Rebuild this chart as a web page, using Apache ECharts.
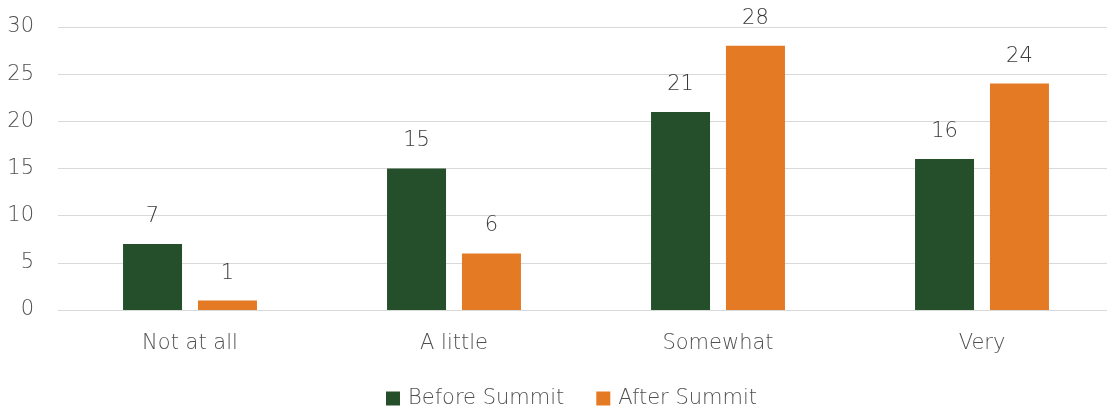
<!DOCTYPE html>
<html><head><meta charset="utf-8">
<script src="https://cdn.jsdelivr.net/npm/echarts@6/dist/echarts.min.js"></script>
<style>html,body{margin:0;padding:0;background:#fff;overflow:hidden}#c{width:1114px;height:414px}</style>
</head><body><div id="c"></div>
<script>
const categories = ["Not at all", "A little", "Somewhat", "Very"];
const before = [7, 15, 21, 16];
const after = [1, 6, 28, 24];
const seriesNames = ["Before Summit", "After Summit"];
const yTicks = [0, 5, 10, 15, 20, 25, 30];

const font = "DejaVu Sans";
const fw = 200;
const fs = 21;
const txt = "#505050";
const chart = echarts.init(document.getElementById('c'), null, {renderer: 'canvas'});
const lbl = {show: true, position: 'top', distance: 17, color: '#3a3a3a', fontSize: fs, fontWeight: fw, fontFamily: font};
chart.setOption({
  animation: false,
  grid: {left: 58, top: 27, right: 0, height: 283},
  legend: {
    bottom: 0, left: 381, itemWidth: 14, itemHeight: 14, itemGap: 32,
    icon: 'rect',
    textStyle: {color: txt, fontSize: fs, fontWeight: fw, fontFamily: font, padding: [0, 0, 0, 3]},
    data: seriesNames
  },
  xAxis: {
    type: 'category', data: categories,
    axisLine: {lineStyle: {color: '#d9d9d9', width: 1}},
    axisTick: {show: false},
    axisLabel: {color: txt, fontSize: fs, fontWeight: fw, fontFamily: font, margin: 23}
  },
  yAxis: {
    type: 'value', min: yTicks[0], max: yTicks[yTicks.length - 1], interval: 5,
    axisLine: {show: false}, axisTick: {show: false},
    splitLine: {lineStyle: {color: '#d9d9d9', width: 1}},
    axisLabel: {color: txt, fontSize: fs, fontWeight: fw, fontFamily: font, margin: 24}
  },
  series: [
    {name: seriesNames[0], type: 'bar', data: before, barWidth: 59, barGap: '27%',
     itemStyle: {color: '#254F2B'}, label: lbl},
    {name: seriesNames[1], type: 'bar', data: after, barWidth: 59,
     itemStyle: {color: '#E57A25'}, label: lbl}
  ]
});
</script></body></html>
